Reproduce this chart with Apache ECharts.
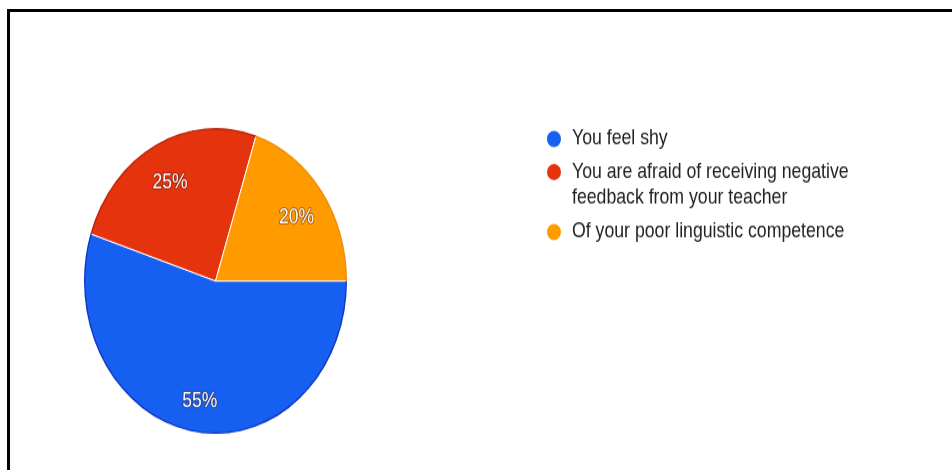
<!DOCTYPE html>
<html><head><meta charset="utf-8">
<script src="https://cdn.jsdelivr.net/npm/echarts@6/dist/echarts.min.js"></script>
<style>
html,body{margin:0;padding:0;background:#fff;overflow:hidden;width:952px;height:470px}
#frame{position:absolute;left:7px;top:9px;width:980px;height:500px;border-left:3px solid #000;border-top:3px solid #000;box-sizing:border-box}
#chart{position:absolute;left:0;top:0;width:952px;height:404px;transform:scaleY(1.163);transform-origin:0 0}
</style></head><body>
<div id="chart"></div><div id="frame"></div>
<script>
const categories = ['You feel shy', 'You are afraid of receiving negative feedback from your teacher', 'Of your poor linguistic competence'];
const legendLabels = ['You feel shy', '\nYou are afraid of receiving negative\nfeedback from your teacher', 'Of your poor linguistic competence'];
const values = [55, 25, 20];
const colors = ['#1560F0', '#E5330D', '#FF9A00'];
const edgeColors = ['#1034C0', '#B82208', '#F08C00'];

const chart = echarts.init(document.getElementById('chart'), null, {renderer: 'canvas'});
const FONT = '"Liberation Sans", Arial, sans-serif';
const CENTER = [215.5, 241.6];
const R = 131.5;
const legendTops = [108.5, 114.9, 188.5];
const legends = categories.map((c, i) => ({
  orient: 'vertical', left: 545, top: legendTops[i], padding: 0,
  icon: 'circle', itemWidth: 16, itemHeight: 16, selectedMode: false,
  data: [{name: c, itemStyle: {color: colors[i]}}],
  formatter: n => legendLabels[categories.indexOf(n)],
  textStyle: {fontFamily: FONT, fontSize: 17.7, color: '#222', lineHeight: 22, padding: [0, 0, 0, 5]}
}));
chart.setOption({
  animation: false,
  legend: legends,
  series: [{
    type: 'pie', center: CENTER, radius: [0, R],
    startAngle: 0, clockwise: true, silent: true,
    itemStyle: {borderColor: '#fff', borderWidth: 1},
    label: {show: false}, labelLine: {show: false},
    emphasis: {disabled: true},
    data: categories.map((c, i) => ({name: c, value: values[i], itemStyle: {color: colors[i]}}))
  }, {
    type: 'pie', center: CENTER, radius: [R - 1.3, R],
    startAngle: 0, clockwise: true, silent: true,
    itemStyle: {borderWidth: 0},
    label: {show: false}, labelLine: {show: false},
    emphasis: {disabled: true},
    data: categories.map((c, i) => ({name: c, value: values[i], itemStyle: {color: edgeColors[i]}}))
  }, {
    type: 'pie', center: CENTER, radius: [63, R],
    startAngle: 0, clockwise: true, silent: true,
    itemStyle: {color: 'rgba(0,0,0,0)', borderWidth: 0},
    label: {show: true, position: 'inside', formatter: '{c}%', fontFamily: FONT, fontSize: 17.5,
      color: '#fff', textBorderColor: 'rgba(60,20,20,0.55)', textBorderWidth: 1.5},
    labelLayout: {dy: 4.5},
    labelLine: {show: false},
    emphasis: {disabled: true},
    data: categories.map((c, i) => ({name: c, value: values[i]}))
  }]
});
</script>
</body></html>
